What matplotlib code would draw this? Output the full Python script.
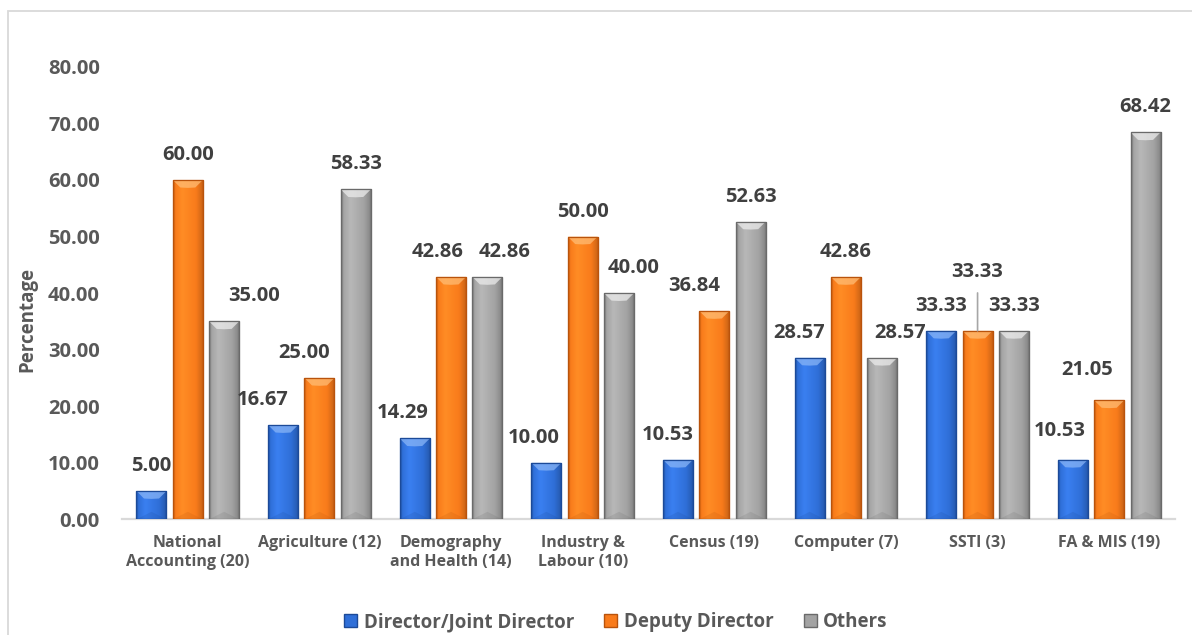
import numpy as np
import matplotlib
matplotlib.use("Agg")
import matplotlib.pyplot as plt
from matplotlib.patches import Polygon, Rectangle, Patch
from matplotlib.colors import to_rgb, LinearSegmentedColormap

# ---- data -------------------------------------------------------------
divisions = ["National\nAccounting (20)", "Agriculture (12)", "Demography\nand Health (14)",
             "Industry &\nLabour (10)", "Census (19)", "Computer (7)", "SSTI (3)", "FA & MIS (19)"]
series_names = ["Director/Joint Director", "Deputy Director", "Others"]
director = [5.00, 16.67, 14.29, 10.00, 10.53, 28.57, 33.33, 10.53]
deputy = [60.00, 25.00, 42.86, 50.00, 36.84, 42.86, 33.33, 21.05]
others = [35.00, 58.33, 42.86, 40.00, 52.63, 28.57, 33.33, 68.42]
y_ticks = [0, 10, 20, 30, 40, 50, 60, 70, 80]

# ---- styling ----------------------------------------------------------
# (edge, body, highlight) per series
palettes = [("#1C4A98", "#2F6FD8", "#8DB8F7"),
            ("#B9530C", "#F97B1B", "#FFC07A"),
            ("#6A6A6A", "#A3A3A3", "#EFEFEF")]
label_color = "#404040"
tick_color = "#595959"
FONT = "Open Sans"

# per-label nudges (pixels) to keep neighbouring value labels apart
nudges = {(0, 2): (30, 0), (1, 0): (-20, 0), (1, 1): (-15, 0),
          (2, 0): (-12, 0), (2, 1): (-13, 0), (2, 2): (17, 0),
          (3, 0): (-13, 0), (3, 2): (15, 0), (4, 0): (-10, 0), (4, 1): (-20, 0),
          (5, 0): (-10, 0), (5, 2): (18, 0), (6, 1): (0, 34),
          (7, 0): (-13, 4), (7, 1): (-22, 5)}
leader = {(6, 1)}

fig = plt.figure(figsize=(11.92, 6.35), dpi=100)
ax = fig.add_axes([122 / 1192, 1 - 519.3 / 635, (1175 - 122) / 1192, (519.3 - 66.9) / 635])

x = np.arange(len(divisions))
width = 0.228
step = 0.276
values = [director, deputy, others]


def bar_gradient(edge, body):
    e, b = np.array(to_rgb(edge)), np.array(to_rgb(body))
    light = np.clip(b * 1.08 + 0.03, 0, 1)
    cmap = LinearSegmentedColormap.from_list(
        "g", [(0.0, e), (0.07, b), (0.3, light), (0.75, b), (0.93, b * 0.85), (1.0, e)])
    return cmap


ax.set_xlim(-0.5, len(divisions) - 0.5)
ax.set_ylim(0, 80)
px_per_unit = (519.3 - 66.9) / 80.0
bevel = 7.5 / px_per_unit

for s, vals in enumerate(values):
    edge, body, hi = palettes[s]
    cmap = bar_gradient(edge, body)
    grad = np.linspace(0, 1, 64).reshape(1, -1)
    pos = x + (s - 1) * step
    bars = ax.bar(pos, vals, width, color=body, edgecolor=edge, linewidth=0.8, zorder=2)
    for b, v in zip(bars, vals):
        x0, x1 = b.get_x(), b.get_x() + b.get_width()
        im = ax.imshow(grad, cmap=cmap, aspect="auto", extent=(x0, x1, 0, v),
                       zorder=2.5, interpolation="bicubic")
        im.set_clip_path(b)
        xc = (x0 + x1) / 2
        h = min(bevel, v / 2)
        ax.add_patch(Polygon([(x0, v), (x1, v), (x1 - 0.25 * width, v - h),
                              (xc, v - h * 1.05), (x0 + 0.25 * width, v - h)],
                             closed=True, facecolor=hi, edgecolor="none", alpha=0.7, zorder=3))
        ax.add_patch(Polygon([(x0, 0), (x1, 0), (xc, min(bevel, v / 2))], closed=True,
                             facecolor=edge, edgecolor="none", alpha=0.18, zorder=3))
        ax.add_patch(Rectangle((x0, 0), width, v, fill=False, edgecolor=edge,
                               linewidth=0.9, zorder=3.2))

    for i, v in enumerate(vals):
        dx, dy = nudges.get((i, s), (0, 0))
        kw = {}
        if (i, s) in leader:
            kw["arrowprops"] = dict(arrowstyle="-", color="#A6A6A6", lw=1.2,
                                    shrinkA=6, shrinkB=0)
        ax.annotate(f"{v:.2f}", xy=(pos[i], v), xytext=(dx, 25 + dy),
                    textcoords="offset pixels", ha="center", va="center",
                    fontsize=14.5, fontweight="bold", color=label_color,
                    family=FONT, zorder=5, **kw)

for sp in ["top", "right", "left"]:
    ax.spines[sp].set_visible(False)
ax.spines["bottom"].set_color("#D9D9D9")
ax.spines["bottom"].set_linewidth(1.6)
ax.spines["bottom"].set_zorder(1)

ax.set_yticks(y_ticks)
ax.set_yticklabels([f"{t:.2f}" for t in y_ticks])
ax.set_xticks(x)
ax.set_xticklabels(divisions)
ax.tick_params(axis="y", length=0, pad=16, labelsize=14.5, labelcolor=tick_color)
ax.tick_params(axis="x", length=0, pad=11, labelsize=11.5, labelcolor=tick_color)
for lab in ax.get_yticklabels():
    lab.set_fontweight("bold")
    lab.set_family(FONT)
for lab in ax.get_xticklabels():
    lab.set_fontweight("bold")
    lab.set_family(FONT)
    lab.set_linespacing(1.3)

fig.text(27 / 1192, 1 - 320 / 635, "Percentage", rotation=90, ha="center", va="center",
         fontsize=13.5, fontweight="bold", color=tick_color, family=FONT)

# chart frame
fig.add_artist(Rectangle((8 / 1192, -0.2), 1.2, 1 - 11 / 635 + 0.2, transform=fig.transFigure,
                         fill=False, edgecolor="#D9D9D9", linewidth=1.3))

handles = [Patch(facecolor=p[1], edgecolor=p[0], linewidth=1.0) for p in palettes]
fig.legend(handles, series_names, loc="center", bbox_to_anchor=(616 / 1192, 1 - 622 / 635),
           ncol=3, frameon=False, handlelength=0.7, handleheight=0.7, handletextpad=0.35,
           columnspacing=1.6, prop=dict(family=FONT, weight="bold", size=13.5),
           labelcolor=tick_color)

fig.savefig("out.png", dpi=100)
